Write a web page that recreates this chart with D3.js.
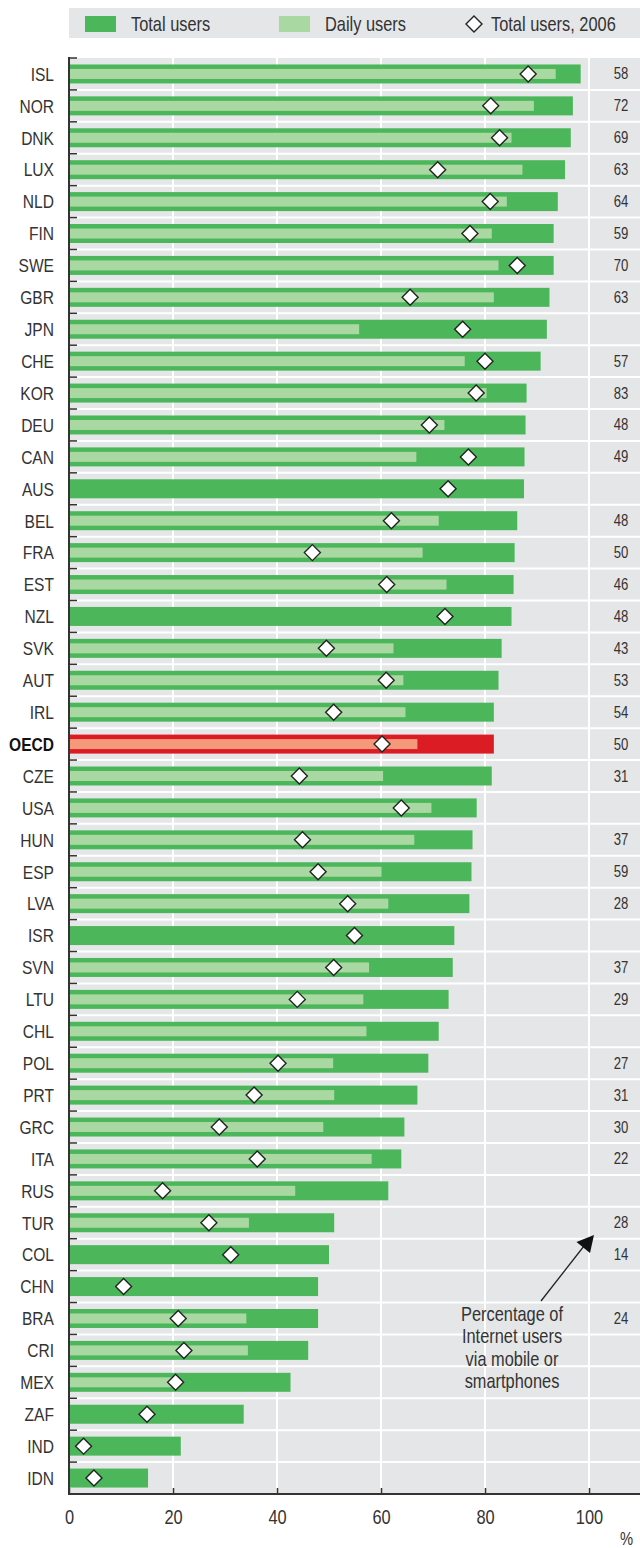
<!DOCTYPE html>
<html>
<head>
<meta charset="utf-8">
<script src="https://cdn.jsdelivr.net/npm/d3@7"></script>
<style>
  html, body { margin: 0; padding: 0; background: #fff; }
  svg { display: block; }
  text { font-family: "Liberation Sans Narrow", "Liberation Sans", Arial, sans-serif; fill: #333; }
</style>
</head>
<body>
<svg id="chart" width="640" height="1548"></svg>
<script>
const countries = ["ISL","NOR","DNK","LUX","NLD","FIN","SWE","GBR","JPN","CHE","KOR","DEU","CAN","AUS","BEL","FRA","EST","NZL","SVK","AUT","IRL","OECD","CZE","USA","HUN","ESP","LVA","ISR","SVN","LTU","CHL","POL","PRT","GRC","ITA","RUS","TUR","COL","CHN","BRA","CRI","MEX","ZAF","IND","IDN"];
const totalUsers = [98.4,96.9,96.5,95.4,94.0,93.2,93.2,92.4,91.9,90.7,88.0,87.8,87.6,87.5,86.2,85.7,85.5,85.1,83.2,82.6,81.7,81.7,81.3,78.4,77.6,77.4,77.0,74.1,73.8,73.0,71.1,69.1,67.0,64.5,63.9,61.4,51.0,50.0,47.9,47.9,46.0,42.6,33.6,21.5,15.2];
const dailyUsers = [93.6,89.4,85.1,87.2,84.2,81.3,82.6,81.7,55.8,76.1,80.3,72.2,66.8,null,71.1,68.0,72.6,null,62.4,64.3,64.7,67.0,60.4,69.7,66.4,60.1,61.4,null,57.7,56.6,57.2,50.8,51.0,48.9,58.2,43.5,34.6,null,null,34.1,34.4,20.5,null,null,null];
const totalUsers2006 = [88.3,81.1,82.8,70.9,81.0,77.1,86.2,65.6,75.7,80.0,78.3,69.3,76.8,72.9,62.0,46.8,61.1,72.3,49.5,61.0,50.9,60.2,44.3,63.9,44.9,47.9,53.6,54.9,50.9,43.9,null,40.2,35.6,28.9,36.2,18.0,26.9,31.1,10.5,21.0,22.1,20.5,15.0,2.8,4.8];
const mobileShare = [58,72,69,63,64,59,70,63,null,57,83,48,49,null,48,50,46,48,43,53,54,50,31,null,37,59,28,null,37,29,null,27,31,30,22,null,28,14,null,24,null,null,null,null,null];
const xTicks = [0,20,40,60,80,100];
const legendLabels = ["Total users","Daily users","Total users, 2006"];
const noteLines = ["Percentage of","Internet users","via mobile or","smartphones"];

const rows = countries.map((c,i)=>({c, total: totalUsers[i], daily: dailyUsers[i], y2006: totalUsers2006[i], mobile: mobileShare[i]}));

const C = {
  bg: "#e5e6e8", total: "#4cb75a", daily: "#a9d8a3",
  oecdTotal: "#dc1c24", oecdDaily: "#f49a7b", axis: "#333"
};
const SX = 0.82; // horizontal condensing to emulate a narrow typeface
const diamond = "M0,-8L8,0L0,8L-8,0Z";

const svg = d3.select("#chart");
const x = d3.scaleLinear().domain([0,100]).range([69,589]);
const y = d3.scaleBand().domain(countries).range([58,1494]);
const bw = y.bandwidth();

function ntext(parent, px, py, str, size, anchor) {
  return parent.append("text")
    .attr("transform", `translate(${px},${py}) scale(${SX},1)`)
    .attr("font-size", size).attr("text-anchor", anchor || "start").text(str);
}

// Legend
svg.append("rect").attr("x",69).attr("y",8).attr("width",571).attr("height",30).attr("fill",C.bg);
svg.append("rect").attr("x",85).attr("y",16).attr("width",31).attr("height",16).attr("fill",C.total);
ntext(svg,131,31,legendLabels[0],20);
svg.append("rect").attr("x",279).attr("y",16).attr("width",31).attr("height",16).attr("fill",C.daily);
ntext(svg,325,31,legendLabels[1],20);
svg.append("path").attr("d",diamond).attr("transform","translate(474,24)")
  .attr("fill","#fff").attr("stroke","#222").attr("stroke-width",1.4);
ntext(svg,491,31,legendLabels[2],20);

// Plot background
svg.append("rect").attr("x",69).attr("y",58).attr("width",571).attr("height",1494-58).attr("fill",C.bg);

// vertical gridlines
svg.selectAll("line.vg").data(xTicks.filter(d=>d>0)).join("line")
  .attr("x1",d=>x(d)).attr("x2",d=>x(d)).attr("y1",58).attr("y2",1494)
  .attr("stroke","#fff").attr("stroke-width",2);

// horizontal separators
svg.selectAll("line.hg").data(countries.slice(1)).join("line")
  .attr("x1",69).attr("x2",640).attr("y1",d=>y(d)).attr("y2",d=>y(d))
  .attr("stroke","#fff").attr("stroke-width",2);

// bars
const g = svg.append("g");
g.selectAll("rect.total").data(rows).join("rect")
  .attr("x",x(0)).attr("y",d=>y(d.c)+bw/2-9.5)
  .attr("width",d=>x(d.total)-x(0)).attr("height",19)
  .attr("fill",d=>d.c==="OECD"?C.oecdTotal:C.total);
g.selectAll("rect.daily").data(rows.filter(d=>d.daily!=null)).join("rect")
  .attr("x",x(0)).attr("y",d=>y(d.c)+bw/2-5)
  .attr("width",d=>x(d.daily)-x(0)).attr("height",10)
  .attr("fill",d=>d.c==="OECD"?C.oecdDaily:C.daily);

// diamonds
g.selectAll("path.dia").data(rows.filter(d=>d.y2006!=null)).join("path")
  .attr("d",diamond)
  .attr("transform",d=>`translate(${x(d.y2006)},${y(d.c)+bw/2})`)
  .attr("fill","#fff").attr("stroke","#222").attr("stroke-width",1.4);

// right column numbers
rows.filter(d=>d.mobile!=null).forEach(d=>{
  ntext(svg,621,y(d.c)+bw/2+5.5,d.mobile,16,"middle");
});

// country labels
rows.forEach(d=>{
  ntext(svg,54,y(d.c)+bw/2+6.8,d.c,19,"end")
    .attr("font-weight",d.c==="OECD"?"bold":"normal")
    .style("fill",d.c==="OECD"?"#111":"#333");
});

// y axis
svg.append("line").attr("x1",69).attr("x2",69).attr("y1",57).attr("y2",1495).attr("stroke",C.axis).attr("stroke-width",2);
svg.selectAll("line.yt").data(countries).join("line")
  .attr("x1",68).attr("x2",77).attr("y1",d=>y(d)).attr("y2",d=>y(d))
  .attr("stroke",C.axis).attr("stroke-width",1.5);

// x axis
const xAxis = d3.axisBottom(x).tickValues(xTicks).tickSize(-6).tickSizeOuter(0);
const ax = svg.append("g").attr("transform","translate(0,1494)").call(xAxis);
ax.select(".domain").remove();
ax.selectAll(".tick line").attr("stroke",C.axis).attr("stroke-width",1.5);
ax.selectAll(".tick text").attr("font-size",20).attr("y",0).attr("dy",null)
  .attr("transform",`translate(0,30) scale(${SX},1)`)
  .style("font-family","'Liberation Sans Narrow', 'Liberation Sans', Arial, sans-serif").style("fill","#333");
svg.append("line").attr("x1",68).attr("x2",640).attr("y1",1494).attr("y2",1494).attr("stroke",C.axis).attr("stroke-width",2);
ntext(svg,620,1545,"%",18);

// annotation
noteLines.forEach((t,i)=>ntext(svg,512,1320.5+i*22.5,t,20,"middle"));
svg.append("line").attr("x1",541).attr("y1",1301).attr("x2",584).attr("y2",1246)
  .attr("stroke","#222").attr("stroke-width",1.3);
svg.append("path").attr("d","M594,1235L576.5,1242L590,1253Z").attr("fill","#111");
</script>
</body>
</html>
